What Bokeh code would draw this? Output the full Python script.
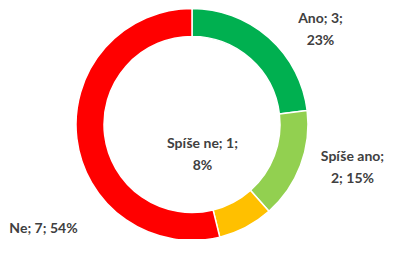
import math
from bokeh.plotting import figure
from bokeh.models import Range1d, ColumnDataSource
from bokeh.core.properties import value
from bokeh.embed import file_html
from bokeh.resources import INLINE

categories = ["Ano", "Spíše ano", "Spíše ne", "Ne"]
counts = [3, 2, 1, 7]
colors = ["#00B050", "#92D050", "#FFC000", "#FF0000"]
# number of "; "-separated parts on the first label line (0 = single line)
break_after = [2, 1, 2, 0]

W, H = 386, 239
p = figure(width=W, height=H, output_backend="svg", toolbar_location=None,
           x_range=Range1d(0, W), y_range=Range1d(0, H), min_border=0,
           outline_line_color=None, background_fill_color="white")
p.axis.visible = False
p.grid.visible = False

def px(x):
    return x

def py(y):
    return H - y

total = sum(counts)
cx, cy = px(191.5), py(124)
r_out, r_in = 116, 88

starts, ends = [], []
cum = 0
for c in counts:
    starts.append(math.pi / 2 - 2 * math.pi * cum / total)
    cum += c
    ends.append(math.pi / 2 - 2 * math.pi * cum / total)

src = ColumnDataSource(dict(start=starts, end=ends, color=colors, cat=categories))
p.annular_wedge(x=cx, y=cy, inner_radius=r_in, outer_radius=r_out,
                start_angle="start", end_angle="end", direction="clock",
                fill_color="color", line_color="white", line_width=1.5, source=src)

labels = []
for cat, c, b in zip(categories, counts, break_after):
    parts = [cat, str(c), f"{round(100 * c / total)}%"]
    if b:
        labels.append("; ".join(parts[:b]) + ";\n" + "; ".join(parts[b:]))
    else:
        labels.append("; ".join(parts))

label_x = [px(320), px(352), px(202), px(43)]
label_y = [py(28), py(166), py(153), py(227)]

p.text(x=label_x, y=label_y, text=labels, text_align="center", text_baseline="middle",
       text_font=value("Lato"), text_font_style="bold", text_font_size="14px",
       text_color="#404040", text_line_height=1.3)

open("out.html", "w").write(file_html(p, INLINE))
